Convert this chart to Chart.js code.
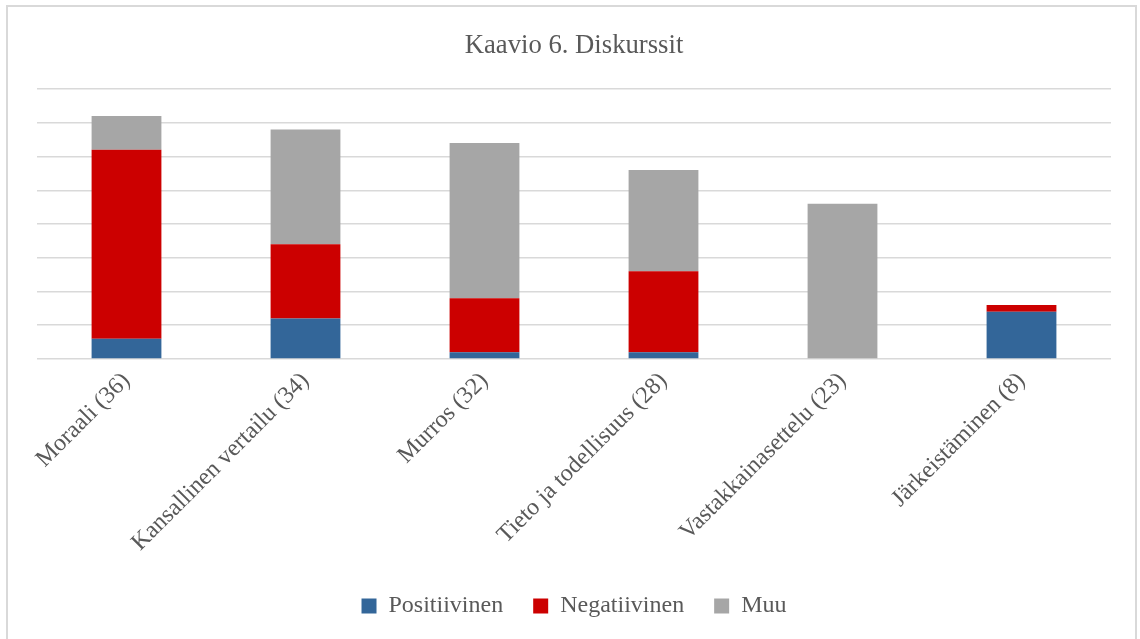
<!DOCTYPE html>
<html>
<head>
<meta charset="utf-8">
<script src="https://cdn.jsdelivr.net/npm/chart.js@4.4.1/dist/chart.umd.min.js"></script>
<style>
html,body{margin:0;padding:0;background:#fff;}
#wrap{position:relative;width:1140px;height:639px;overflow:hidden;}
#frame{position:absolute;left:6px;top:5px;width:1131px;height:640px;border:2px solid #d9d9d9;box-sizing:border-box;}
#c{position:absolute;left:0;top:0;}
</style>
</head>
<body>
<div id="wrap">
<div id="frame"></div>
<canvas id="c" width="1140" height="639"></canvas>
</div>
<script>
const categories = ["Moraali (36)", "Kansallinen vertailu (34)", "Murros (32)", "Tieto ja todellisuus (28)", "Vastakkainasettelu (23)", "Järkeistäminen (8)"];
const positiivinen = [3, 6, 1, 1, 0, 7];
const negatiivinen = [28, 11, 8, 12, 0, 1];
const muu = [5, 17, 23, 15, 23, 0];
const yTicks = [0, 5, 10, 15, 20, 25, 30, 35, 40];

const textColor = '#595959';
const fontFamily = '"Liberation Serif", "Times New Roman", serif';

new Chart(document.getElementById('c'), {
  type: 'bar',
  data: {
    labels: categories,
    datasets: [
      {label: 'Positiivinen', data: positiivinen, backgroundColor: '#336699'},
      {label: 'Negatiivinen', data: negatiivinen, backgroundColor: '#CC0000'},
      {label: 'Muu', data: muu, backgroundColor: '#A6A6A6'}
    ]
  },
  options: {
    responsive: false,
    animation: false,
    layout: {padding: {left: 37, right: 29, top: 0, bottom: 11}},
    datasets: {bar: {categoryPercentage: 1, barPercentage: 0.39}},
    scales: {
      x: {
        stacked: true,
        grid: {display: false},
        border: {display: false},
        afterFit: (s) => { s.height += 7; },
        ticks: {
          color: textColor, font: {family: fontFamily, size: 24},
          minRotation: 45, maxRotation: 45, padding: 0
        }
      },
      y: {
        stacked: true,
        min: yTicks[0], max: yTicks[yTicks.length - 1],
        afterBuildTicks: (s) => { s.ticks = yTicks.map(v => ({value: v})); },
        ticks: {display: false},
        grid: {color: '#d9d9d9', lineWidth: 1.5, drawTicks: false},
        border: {display: false}
      }
    },
    plugins: {
      title: {
        display: true, text: 'Kaavio 6. Diskurssit', color: textColor,
        font: {family: fontFamily, size: 26.7, weight: 'normal'},
        padding: {top: 30, bottom: 27}
      },
      legend: {
        position: 'bottom',
        labels: {color: textColor, font: {family: fontFamily, size: 24}, boxWidth: 15, boxHeight: 15, padding: 30}
      },
      tooltip: {enabled: false}
    }
  }
});
</script>
</body>
</html>
